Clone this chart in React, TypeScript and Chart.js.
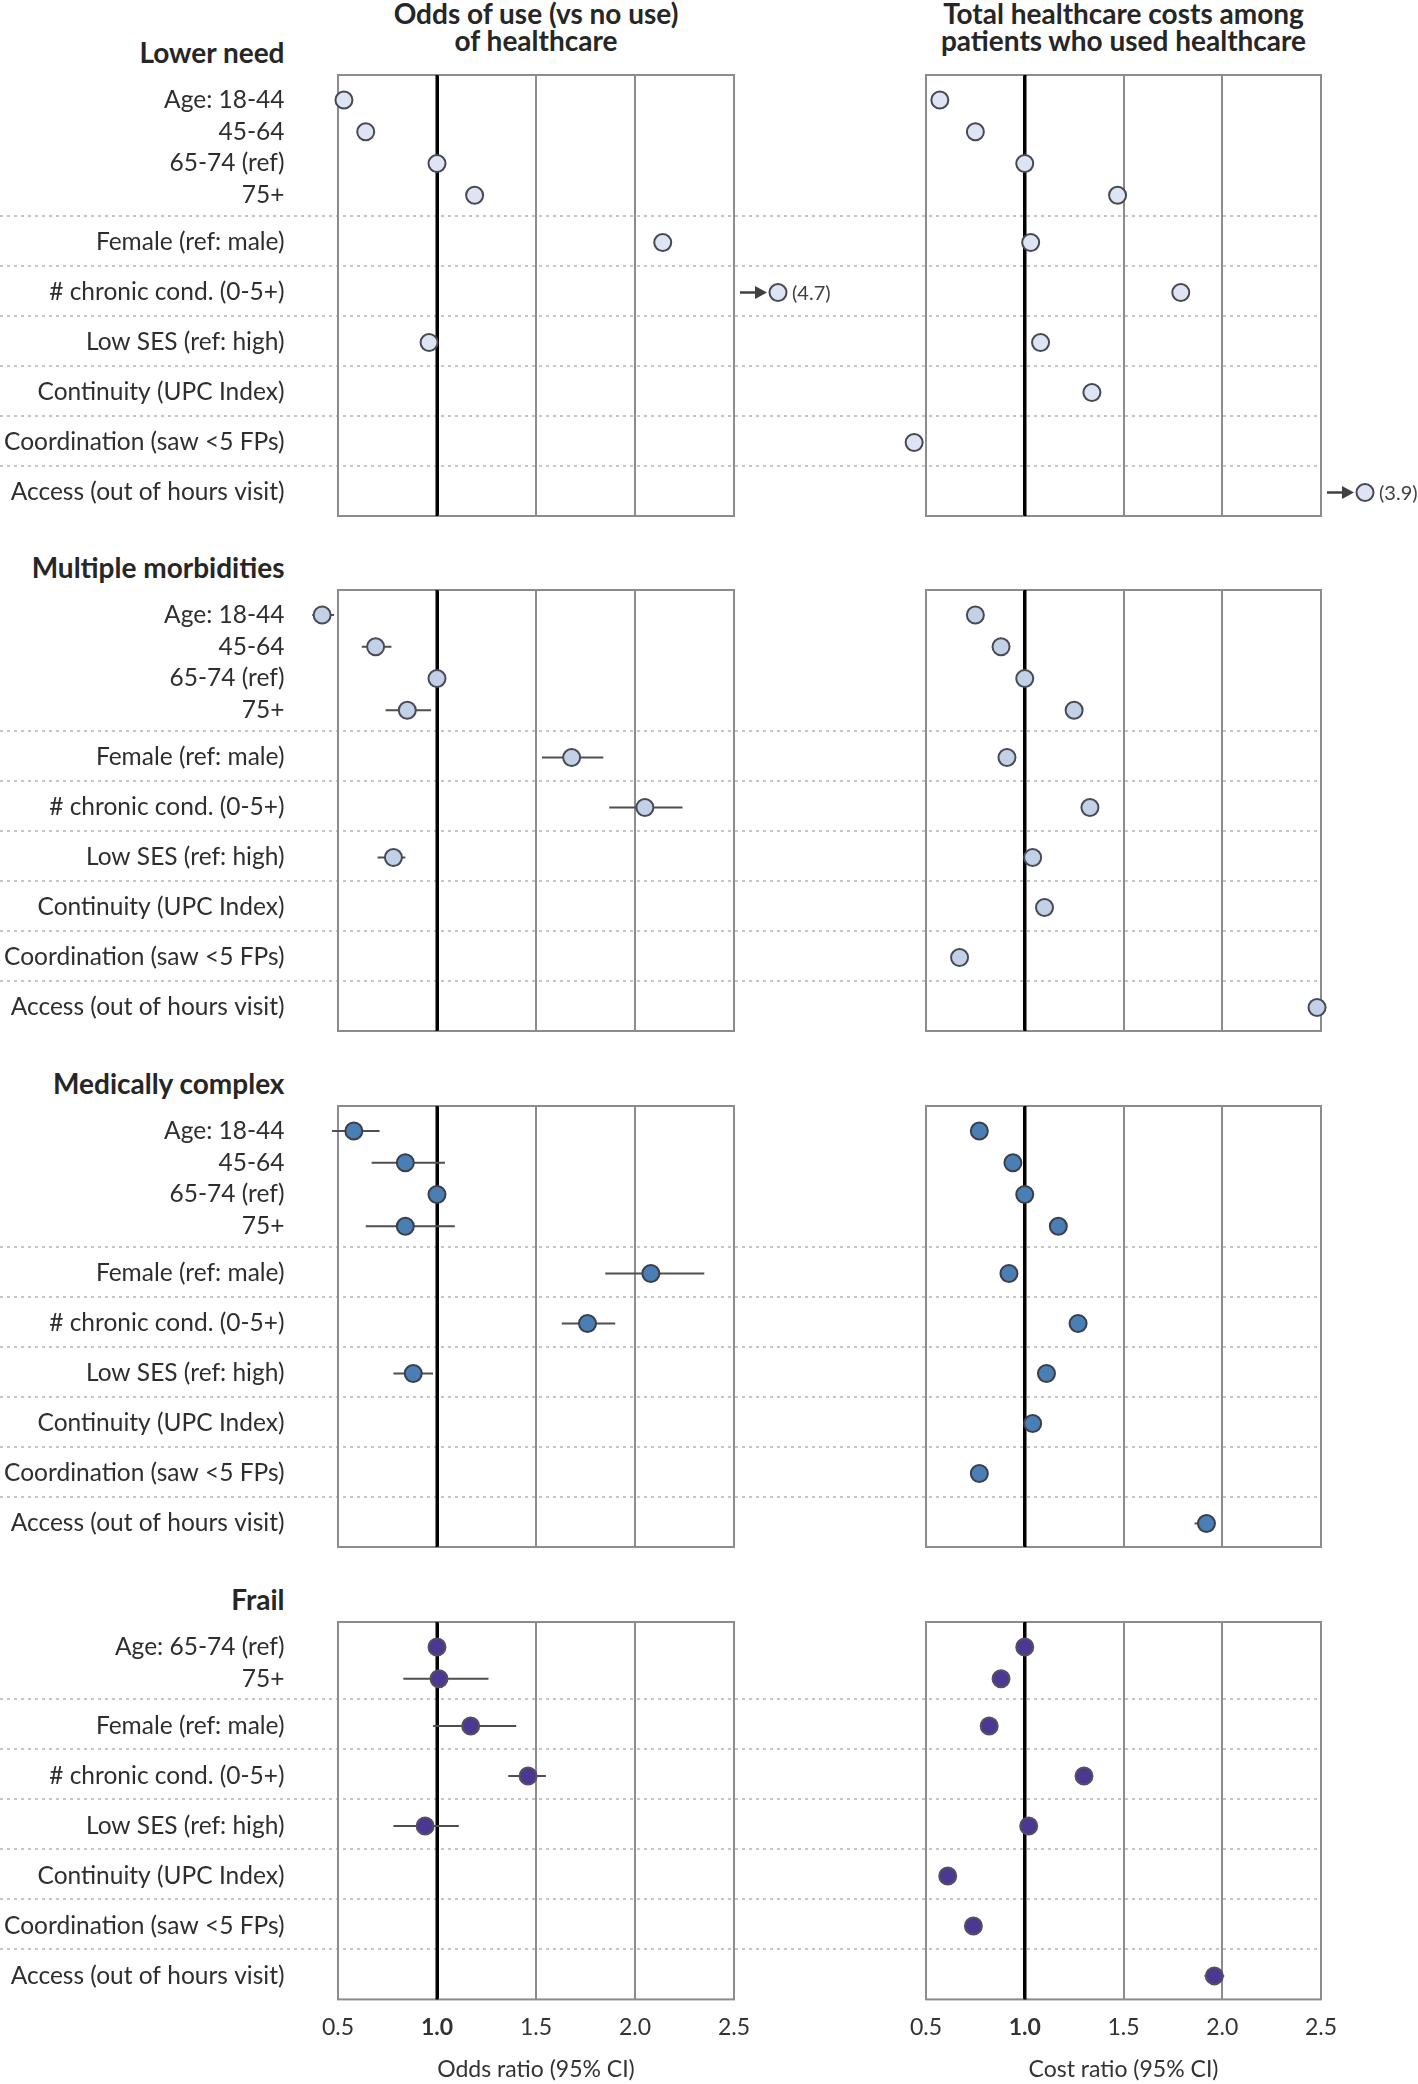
import React, { useEffect, useRef } from "react";
import { Chart, registerables } from "chart.js";

Chart.register(...registerables);

// ---------------- data ----------------
const GROUP_NAMES = ["Lower need", "Multiple morbidities", "Medically complex", "Frail"];
const AGE_LABELS = ["Age: 18-44", "45-64", "65-74 (ref)", "75+"];
const FRAIL_AGE_LABELS = ["Age: 65-74 (ref)", "75+"];
const OTHER_LABELS = [
  "Female (ref: male)",
  "# chronic cond. (0-5+)",
  "Low SES (ref: high)",
  "Continuity (UPC Index)",
  "Coordination (saw <5 FPs)",
  "Access (out of hours visit)",
];
const X_TICKS = [0.5, 1.0, 1.5, 2.0, 2.5];
const COLUMN_TITLES = [
  ["Odds of use (vs no use)", "of healthcare"],
  ["Total healthcare costs among", "patients who used healthcare"],
];
const X_TITLES = ["Odds ratio (95% CI)", "Cost ratio (95% CI)"];

type V = number | null;
const N = null;

// Lower need
const lowerNeedOdds: V[] = [0.53, 0.64, 1.0, 1.19, 2.14, 4.7, 0.96, N, N, N];
const lowerNeedCost: V[] = [0.57, 0.75, 1.0, 1.47, 1.03, 1.79, 1.08, 1.34, 0.44, 3.9];
// Multiple morbidities
const multiOdds: V[] = [0.42, 0.69, 1.0, 0.85, 1.68, 2.05, 0.78, N, N, N];
const multiOddsLow: V[] = [0.37, 0.62, N, 0.74, 1.53, 1.87, 0.7, N, N, N];
const multiOddsHigh: V[] = [0.48, 0.77, N, 0.97, 1.84, 2.24, 0.84, N, N, N];
const multiCost: V[] = [0.75, 0.88, 1.0, 1.25, 0.91, 1.33, 1.04, 1.1, 0.67, 2.48];
// Medically complex
const complexOdds: V[] = [0.58, 0.84, 1.0, 0.84, 2.08, 1.76, 0.88, N, N, N];
const complexOddsLow: V[] = [0.47, 0.67, N, 0.64, 1.85, 1.63, 0.78, N, N, N];
const complexOddsHigh: V[] = [0.71, 1.04, N, 1.09, 2.35, 1.9, 0.98, N, N, N];
const complexCost: V[] = [0.77, 0.94, 1.0, 1.17, 0.92, 1.27, 1.11, 1.04, 0.77, 1.92];
const complexCostLow: V[] = [N, N, N, N, N, N, N, N, N, 1.86];
const complexCostHigh: V[] = [N, N, N, N, N, N, N, N, N, 1.95];
// Frail
const frailOdds: V[] = [1.0, 1.01, 1.17, 1.46, 0.94, N, N, N];
const frailOddsLow: V[] = [N, 0.83, 0.98, 1.36, 0.78, N, N, N];
const frailOddsHigh: V[] = [N, 1.26, 1.4, 1.55, 1.11, N, N, N];
const frailCost: V[] = [1.0, 0.88, 0.82, 1.3, 1.02, 0.61, 0.74, 1.96];
const frailCostLow: V[] = [N, N, N, N, N, N, N, 1.91];
const frailCostHigh: V[] = [N, N, N, N, N, N, N, 2.01];

const GROUP_FILL = ["#dde5f5", "#c3d1e7", "#4a7fb6", "#4c3792"];
const GROUP_STROKE = ["#484850", "#474a58", "#3c3f48", "#55505f"];

// ---------------- layout ----------------
const FONT = "Lato, 'Open Sans', sans-serif";
const PAGE_W = 1418;
const PAGE_H = 2084;
const SPLIT_X = 880;
const LEFT_X0 = 338;
const LEFT_X1 = 734;
const RIGHT_X0 = 926;
const RIGHT_X1 = 1321;
const LABEL_RIGHT = 284.5;
const PANEL_TOPS = [74.5, 590.3, 1106.1, 1621.9];
const PAD_T = 12;
const PAD_B = 14;
const AGE_FIRST = 25;
const AGE_STEP = 31.75;
const ROW = 50;
const ROW_OFFSET = 26.5;
const X_MIN = 0.5;
const X_MAX = 2.5;

const ageBlock = (n: number) => 14 + AGE_STEP * n;
const panelHeight = (n: number) => ageBlock(n) + 6 * ROW;
const rowPositions = (n: number) => {
  const out: number[] = [];
  for (let i = 0; i < n; i++) out.push(AGE_FIRST + AGE_STEP * i);
  for (let k = 0; k < 6; k++) out.push(ageBlock(n) + ROW_OFFSET + ROW * k);
  return out;
};
const separatorPositions = (n: number) => {
  const out: number[] = [];
  for (let k = 0; k < 6; k++) out.push(ageBlock(n) + ROW * k);
  return out;
};

type PanelProps = {
  labels: string[];
  nAge: number;
  values: V[];
  lows: V[];
  highs: V[];
  fill: string;
  stroke: string;
  side: number;
  panelTop: number;
  bottom: boolean;
};

function Panel(p: PanelProps) {
  const ref = useRef<HTMLCanvasElement | null>(null);
  const H = panelHeight(p.nAge);
  const canvasLeft = p.side === 0 ? 0 : SPLIT_X;
  const canvasW = p.side === 0 ? SPLIT_X : PAGE_W - SPLIT_X;
  const canvasTop = p.panelTop - PAD_T;
  const canvasH = p.bottom ? PAGE_H - canvasTop : PAD_T + H + PAD_B;
  const areaLeft = (p.side === 0 ? LEFT_X0 : RIGHT_X0) - canvasLeft;
  const areaRight = (p.side === 0 ? LEFT_X1 : RIGHT_X1) - canvasLeft;

  useEffect(() => {
    const pos = rowPositions(p.nAge);
    const seps = separatorPositions(p.nAge);
    const pts: { x: number; y: number }[] = [];
    const outs: { v: number; y: number }[] = [];
    p.values.forEach((v, i) => {
      if (v == null) return;
      if (v > X_MAX) outs.push({ v, y: pos[i] });
      else pts.push({ x: v, y: pos[i] });
    });
    const ci: { x: number | null; y: number | null }[] = [];
    p.lows.forEach((lo, i) => {
      const hi = p.highs[i];
      if (lo == null || hi == null) return;
      ci.push({ x: lo, y: pos[i] }, { x: hi, y: pos[i] }, { x: null, y: null });
    });

    const deco = {
      id: "deco",
      beforeDraw(chart: any) {
        const ctx = chart.ctx;
        const ys = chart.scales.y;
        ctx.save();
        ctx.strokeStyle = "#c6c6c6";
        ctx.lineWidth = 2;
        ctx.setLineDash([3, 4]);
        const x1 = p.side === 0 ? canvasW : chart.chartArea.right;
        seps.forEach((s) => {
          const y = Math.round(ys.getPixelForValue(s));
          ctx.beginPath();
          ctx.moveTo(0, y);
          ctx.lineTo(x1, y);
          ctx.stroke();
        });
        ctx.restore();
      },
      beforeDatasetsDraw(chart: any) {
        const { left, right, top, bottom } = chart.chartArea;
        const ctx = chart.ctx;
        ctx.save();
        ctx.strokeStyle = "#8c8c8c";
        ctx.lineWidth = 2;
        ctx.strokeRect(left, top, right - left, bottom - top);
        const xs = chart.scales.x;
        const xr = Math.round(xs.getPixelForValue(1.0));
        ctx.strokeStyle = "#000";
        ctx.lineWidth = 3;
        ctx.beginPath();
        ctx.moveTo(xr, top);
        ctx.lineTo(xr, bottom);
        ctx.stroke();
        ctx.restore();
      },
      afterDatasetsDraw(chart: any) {
        const ctx = chart.ctx;
        const ys = chart.scales.y;
        const area = chart.chartArea;
        // points that fall just outside the plotting box (the library skips them)
        const meta = chart.getDatasetMeta(0);
        const wide = { left: -10000, right: 10000, top: -10000, bottom: 10000 };
        meta.data.forEach((el: any) => {
          const m = 11;
          const inside =
            el.x > area.left - m && el.x < area.right + m && el.y > area.top - m && el.y < area.bottom + m;
          if (!inside) el.draw(ctx, wide);
        });
        const x0 = area.right;
        outs.forEach((o) => {
          const y = ys.getPixelForValue(o.y);
          ctx.save();
          ctx.strokeStyle = "#404040";
          ctx.fillStyle = "#404040";
          ctx.lineWidth = 2.5;
          ctx.beginPath();
          ctx.moveTo(x0 + 6, y);
          ctx.lineTo(x0 + 24, y);
          ctx.stroke();
          ctx.beginPath();
          ctx.moveTo(x0 + 33, y);
          ctx.lineTo(x0 + 21, y - 6.5);
          ctx.lineTo(x0 + 21, y + 6.5);
          ctx.closePath();
          ctx.fill();
          ctx.beginPath();
          ctx.arc(x0 + 44, y, 8.5, 0, Math.PI * 2);
          ctx.fillStyle = p.fill;
          ctx.fill();
          ctx.lineWidth = 2;
          ctx.strokeStyle = p.stroke;
          ctx.stroke();
          ctx.fillStyle = "#404040";
          ctx.font = `20px ${FONT}`;
          ctx.textAlign = "left";
          ctx.textBaseline = "middle";
          ctx.fillText(`(${o.v.toFixed(1)})`, x0 + 58, y + 1);
          ctx.restore();
        });
      },
    };

    const chart = new Chart(ref.current as HTMLCanvasElement, {
      type: "scatter",
      data: {
        datasets: [
          {
            type: "scatter",
            data: pts,
            pointRadius: 8.5,
            pointHoverRadius: 8.5,
            borderWidth: 2,
            backgroundColor: p.fill,
            borderColor: p.stroke,
            clip: false,
          } as any,
          {
            type: "line",
            data: ci,
            borderColor: "#4f4f4f",
            borderWidth: 2,
            pointRadius: 0,
            pointHoverRadius: 0,
            spanGaps: false,
            fill: false,
            clip: false,
          } as any,
        ],
      },
      options: {
        responsive: false,
        animation: false,
        devicePixelRatio: 1,
        events: [],
        layout: {
          padding: {
            top: PAD_T,
            bottom: 0,
            left: p.side === 0 ? 0 : areaLeft,
            right: canvasW - areaRight,
          },
        },
        plugins: {
          legend: { display: false },
          tooltip: { enabled: false },
          title: { display: false },
        },
        scales: {
          x: {
            type: "linear",
            position: "bottom",
            min: X_MIN,
            max: X_MAX,
            afterBuildTicks: (s: any) => {
              s.ticks = X_TICKS.map((v) => ({ value: v }));
            },
            ticks: {
              display: p.bottom,
              padding: 14,
              color: "#333333",
              autoSkip: false,
              maxRotation: 0,
              font: (c: any) => ({
                family: FONT,
                size: 23,
                weight: c.tick && c.tick.value === 1 ? "bold" : "normal",
              }),
              callback: (v: any) => Number(v).toFixed(1),
            },
            grid: {
              drawTicks: false,
              color: (c: any) => (c.tick && c.tick.value === 1 ? "#000000" : "#8c8c8c"),
              lineWidth: (c: any) => (c.tick && c.tick.value === 1 ? 3 : 2),
            },
            border: { display: false },
            title: {
              display: p.bottom,
              text: X_TITLES[p.side],
              color: "#333333",
              font: { family: FONT, size: 23 },
              padding: { top: 0, bottom: 1 },
            },
            afterFit: (s: any) => {
              s.height = canvasH - PAD_T - H;
              s.paddingLeft = 0;
              s.paddingRight = 0;
            },
          } as any,
          y: {
            type: "linear",
            display: p.side === 0,
            min: 0,
            max: H,
            reverse: true,
            afterBuildTicks: (s: any) => {
              s.ticks = pos.map((v) => ({ value: v }));
            },
            ticks: {
              autoSkip: false,
              crossAlign: "near",
              padding: areaLeft - LABEL_RIGHT,
              color: "#2e2e2e",
              font: { family: FONT, size: 24.5 },
              callback: (_v: any, i: number) => p.labels[i],
            },
            grid: { display: false, drawTicks: false },
            border: { display: false },
            afterFit: (s: any) => {
              s.width = p.side === 0 ? areaLeft : 0;
              s.paddingTop = 0;
              s.paddingBottom = 0;
            },
          } as any,
        },
      },
      plugins: [deco as any],
    });
    return () => chart.destroy();
  }, []);

  return (
    <canvas
      ref={ref}
      width={canvasW}
      height={canvasH}
      style={{
        position: "absolute",
        left: canvasLeft,
        top: canvasTop,
        width: canvasW,
        height: canvasH,
      }}
    />
  );
}

const GROUP_DATA = [
  { odds: lowerNeedOdds, oddsLow: [] as V[], oddsHigh: [] as V[], cost: lowerNeedCost, costLow: [] as V[], costHigh: [] as V[] },
  { odds: multiOdds, oddsLow: multiOddsLow, oddsHigh: multiOddsHigh, cost: multiCost, costLow: [] as V[], costHigh: [] as V[] },
  { odds: complexOdds, oddsLow: complexOddsLow, oddsHigh: complexOddsHigh, cost: complexCost, costLow: complexCostLow, costHigh: complexCostHigh },
  { odds: frailOdds, oddsLow: frailOddsLow, oddsHigh: frailOddsHigh, cost: frailCost, costLow: frailCostLow, costHigh: frailCostHigh },
];

export default function App() {
  const titleCenters = [(LEFT_X0 + LEFT_X1) / 2, (RIGHT_X0 + RIGHT_X1) / 2];
  return (
    <div
      style={{
        position: "absolute",
        left: 0,
        top: 0,
        width: PAGE_W,
        height: PAGE_H,
        background: "#ffffff",
        overflow: "hidden",
        fontFamily: FONT,
      }}
    >
      {COLUMN_TITLES.map((lines, c) =>
        lines.map((t, li) => (
          <div
            key={`ct-${c}-${li}`}
            style={{
              position: "absolute",
              left: titleCenters[c],
              top: li === 0 ? 13 : 40,
              transform: "translate(-50%, -50%)",
              whiteSpace: "nowrap",
              fontWeight: 700,
              fontSize: 28,
              lineHeight: "28px",
              color: "#262626",
            }}
          >
            {t}
          </div>
        ))
      )}
      {GROUP_NAMES.map((g, gi) => (
        <div
          key={`gt-${gi}`}
          style={{
            position: "absolute",
            left: LABEL_RIGHT,
            top: PANEL_TOPS[gi] - 23,
            transform: "translate(-100%, -50%)",
            whiteSpace: "nowrap",
            fontWeight: 700,
            fontSize: 28,
            lineHeight: "28px",
            color: "#262626",
          }}
        >
          {g}
        </div>
      ))}
      {GROUP_DATA.map((d, gi) => {
        const isFrail = gi === 3;
        const labels = [...(isFrail ? FRAIL_AGE_LABELS : AGE_LABELS), ...OTHER_LABELS];
        const nAge = isFrail ? FRAIL_AGE_LABELS.length : AGE_LABELS.length;
        return (
          <React.Fragment key={`g-${gi}`}>
            <Panel
              labels={labels}
              nAge={nAge}
              values={d.odds}
              lows={d.oddsLow}
              highs={d.oddsHigh}
              fill={GROUP_FILL[gi]}
              stroke={GROUP_STROKE[gi]}
              side={0}
              panelTop={PANEL_TOPS[gi]}
              bottom={isFrail}
            />
            <Panel
              labels={labels}
              nAge={nAge}
              values={d.cost}
              lows={d.costLow}
              highs={d.costHigh}
              fill={GROUP_FILL[gi]}
              stroke={GROUP_STROKE[gi]}
              side={1}
              panelTop={PANEL_TOPS[gi]}
              bottom={isFrail}
            />
          </React.Fragment>
        );
      })}
    </div>
  );
}
